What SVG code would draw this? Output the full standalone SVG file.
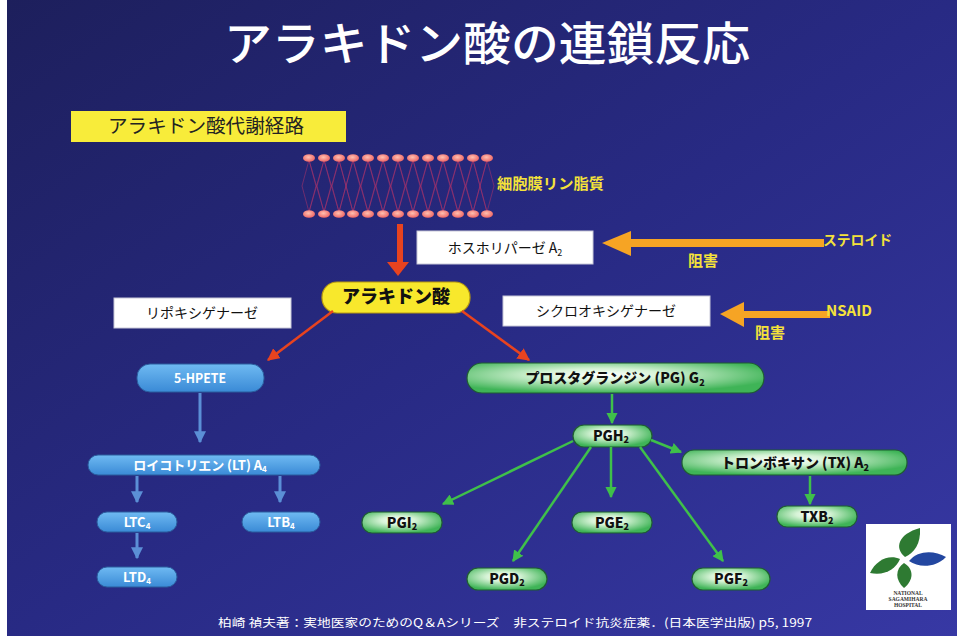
<svg xmlns="http://www.w3.org/2000/svg" width="957" height="638" viewBox="0 0 957 638">
  <defs>
    <linearGradient id="bg" x1="0" y1="0" x2="1" y2="1">
      <stop offset="0" stop-color="#1d1f5c"/>
      <stop offset="0.5" stop-color="#282a84"/>
      <stop offset="1" stop-color="#3738a4"/>
    </linearGradient>
    <radialGradient id="greenPill" cx="0.45" cy="0.4" r="0.6">
      <stop offset="0" stop-color="#ffffff"/>
      <stop offset="0.35" stop-color="#d6f3d6"/>
      <stop offset="1" stop-color="#3fb457"/>
    </radialGradient>
    <linearGradient id="bluePill" x1="0" y1="0" x2="0" y2="1">
      <stop offset="0" stop-color="#6fbaf2"/>
      <stop offset="1" stop-color="#3a8ad6"/>
    </linearGradient>
    <radialGradient id="lipidHead" cx="0.45" cy="0.4" r="0.6">
      <stop offset="0" stop-color="#ffc0b0"/>
      <stop offset="1" stop-color="#ee6565"/>
    </radialGradient>
    <marker id="redHead" viewBox="0 0 10 10" refX="9" refY="5" markerWidth="5" markerHeight="5" orient="auto" markerUnits="strokeWidth">
      <path d="M0,0 L10,5 L0,10 z" fill="#e8431f"/>
    </marker>
    <marker id="greenHead" viewBox="0 0 10 10" refX="9" refY="5" markerWidth="4.5" markerHeight="4.5" orient="auto" markerUnits="strokeWidth">
      <path d="M0,0 L10,5 L0,10 z" fill="#3fc04a"/>
    </marker>
    <marker id="blueHead" viewBox="0 0 10 10" refX="9" refY="5" markerWidth="4" markerHeight="4" orient="auto" markerUnits="strokeWidth">
      <path d="M0,0 L10,5 L0,10 z" fill="#5b8fd6"/>
    </marker>
  </defs>
  <style>
    .jp { font-family: "Noto Sans CJK JP", "Noto Sans", sans-serif; }
    .box { fill: #ffffff; stroke: #c8c8d8; stroke-width: 1; }
    .boxText { font-family: "Noto Sans CJK JP", sans-serif; font-size: 14px; fill: #111; text-anchor: middle; }
    .yellowText { font-family: "Noto Sans CJK JP", sans-serif; font-weight: bold; fill: #f4e23a; }
    .gPill { fill: url(#greenPill); stroke: #1f5d32; stroke-width: 1.2; }
    .bPill { fill: url(#bluePill); stroke: #2b5d9e; stroke-width: 1; }
    .gText { font-family: "Noto Sans CJK JP", "Liberation Sans", sans-serif; font-weight: 900; font-size: 14px; fill: #111; text-anchor: middle; }
    .bText { font-family: "Noto Sans CJK JP", "Liberation Sans", sans-serif; font-weight: bold; font-size: 13px; fill: #ffffff; text-anchor: middle; }
    .redArrow { stroke: #e8431f; stroke-width: 2.5; fill: none; marker-end: url(#redHead); }
    .greenArrow { stroke: #3fc04a; stroke-width: 2.5; fill: none; marker-end: url(#greenHead); }
    .blueArrow { stroke: #5b8fd6; stroke-width: 3; fill: none; marker-end: url(#blueHead); }
    .tail { stroke: #a8336a; stroke-width: 0.8; fill: none; opacity: 0.7; }
    .head { fill: url(#lipidHead); }
    .orange { fill: #f6a424; }
  </style>

  <!-- slide background with thin white margins -->
  <rect x="0" y="0" width="957" height="638" fill="#ffffff"/>
  <rect x="7" y="0" width="950" height="636" fill="url(#bg)"/>

  <!-- title -->
  <text x="487" y="60" class="jp" font-size="46" font-weight="500" fill="#ffffff" text-anchor="middle" textLength="526" lengthAdjust="spacingAndGlyphs">アラキドン酸の連鎖反応</text>

  <!-- section label -->
  <g id="section-label">
    <rect x="71" y="111" width="275" height="31" fill="#f8ec3a"/>
    <text x="108" y="133" class="jp" font-size="19" fill="#222" textLength="196" lengthAdjust="spacingAndGlyphs">アラキドン酸代謝経路</text>
  </g>

  <!-- cell membrane phospholipid bilayer -->
  <g id="membrane">
    <g id="tails">
      <path class="tail" d="M309,160 L316,186 L309,212 M309,160 L302,186 L309,212 M309,160 L324,212 M324,160 L309,212"/>
      <path class="tail" d="M324,160 L331,186 L324,212 M324,160 L317,186 L324,212 M324,160 L339,212 M339,160 L324,212"/>
      <path class="tail" d="M339,160 L346,186 L339,212 M339,160 L332,186 L339,212 M339,160 L353,212 M353,160 L339,212"/>
      <path class="tail" d="M353,160 L360,186 L353,212 M353,160 L346,186 L353,212 M353,160 L368,212 M368,160 L353,212"/>
      <path class="tail" d="M368,160 L375,186 L368,212 M368,160 L361,186 L368,212 M368,160 L383,212 M383,160 L368,212"/>
      <path class="tail" d="M383,160 L390,186 L383,212 M383,160 L376,186 L383,212 M383,160 L398,212 M398,160 L383,212"/>
      <path class="tail" d="M398,160 L405,186 L398,212 M398,160 L391,186 L398,212 M398,160 L413,212 M413,160 L398,212"/>
      <path class="tail" d="M413,160 L420,186 L413,212 M413,160 L406,186 L413,212 M413,160 L428,212 M428,160 L413,212"/>
      <path class="tail" d="M428,160 L435,186 L428,212 M428,160 L421,186 L428,212 M428,160 L443,212 M443,160 L428,212"/>
      <path class="tail" d="M443,160 L450,186 L443,212 M443,160 L436,186 L443,212 M443,160 L458,212 M458,160 L443,212"/>
      <path class="tail" d="M458,160 L465,186 L458,212 M458,160 L451,186 L458,212 M458,160 L473,212 M473,160 L458,212"/>
      <path class="tail" d="M473,160 L480,186 L473,212 M473,160 L466,186 L473,212 M473,160 L487,212 M487,160 L473,212"/>
      <path class="tail" d="M487,160 L494,186 L487,212 M487,160 L480,186 L487,212"/>
    </g>
    <g id="heads-top">
      <ellipse class="head" cx="309" cy="158" rx="6" ry="3.8"/>
      <ellipse class="head" cx="324" cy="158" rx="6" ry="3.8"/>
      <ellipse class="head" cx="339" cy="158" rx="6" ry="3.8"/>
      <ellipse class="head" cx="353" cy="158" rx="6" ry="3.8"/>
      <ellipse class="head" cx="368" cy="158" rx="6" ry="3.8"/>
      <ellipse class="head" cx="383" cy="158" rx="6" ry="3.8"/>
      <ellipse class="head" cx="398" cy="158" rx="6" ry="3.8"/>
      <ellipse class="head" cx="413" cy="158" rx="6" ry="3.8"/>
      <ellipse class="head" cx="428" cy="158" rx="6" ry="3.8"/>
      <ellipse class="head" cx="443" cy="158" rx="6" ry="3.8"/>
      <ellipse class="head" cx="458" cy="158" rx="6" ry="3.8"/>
      <ellipse class="head" cx="473" cy="158" rx="6" ry="3.8"/>
      <ellipse class="head" cx="487" cy="158" rx="6" ry="3.8"/>
    </g>
    <g id="heads-bottom">
      <ellipse class="head" cx="309" cy="214" rx="6" ry="3.8"/>
      <ellipse class="head" cx="324" cy="214" rx="6" ry="3.8"/>
      <ellipse class="head" cx="339" cy="214" rx="6" ry="3.8"/>
      <ellipse class="head" cx="353" cy="214" rx="6" ry="3.8"/>
      <ellipse class="head" cx="368" cy="214" rx="6" ry="3.8"/>
      <ellipse class="head" cx="383" cy="214" rx="6" ry="3.8"/>
      <ellipse class="head" cx="398" cy="214" rx="6" ry="3.8"/>
      <ellipse class="head" cx="413" cy="214" rx="6" ry="3.8"/>
      <ellipse class="head" cx="428" cy="214" rx="6" ry="3.8"/>
      <ellipse class="head" cx="443" cy="214" rx="6" ry="3.8"/>
      <ellipse class="head" cx="458" cy="214" rx="6" ry="3.8"/>
      <ellipse class="head" cx="473" cy="214" rx="6" ry="3.8"/>
      <ellipse class="head" cx="487" cy="214" rx="6" ry="3.8"/>
    </g>
    <text x="497" y="189" class="yellowText" font-size="14.5" textLength="107" lengthAdjust="spacingAndGlyphs">細胞膜リン脂質</text>
  </g>

  <!-- enzyme boxes -->
  <g id="pla2">
    <rect class="box" x="417" y="231" width="176" height="33"/>
    <text x="505" y="253" class="boxText">ホスホリパーゼ A<tspan font-size="9" dy="3">2</tspan></text>
  </g>
  <g id="lox">
    <rect class="box" x="114" y="298" width="177" height="30"/>
    <text x="202" y="318" class="boxText">リポキシゲナーゼ</text>
  </g>
  <g id="cox">
    <rect class="box" x="503" y="296" width="207" height="30"/>
    <text x="606" y="316" class="boxText">シクロオキシゲナーゼ</text>
  </g>

  <!-- inhibitors -->
  <g id="steroid">
    <rect class="orange" x="628" y="239" width="196" height="8"/>
    <polygon class="orange" points="602,243 631,231 631,256"/>
    <text x="823" y="245" class="yellowText" font-size="14" textLength="69" lengthAdjust="spacingAndGlyphs">ステロイド</text>
    <text x="688" y="266" class="yellowText" font-size="15">阻害</text>
  </g>
  <g id="nsaid">
    <rect class="orange" x="740" y="311" width="90" height="7"/>
    <polygon class="orange" points="720,314 744,302 744,327"/>
    <text x="826" y="316" class="yellowText" font-size="15" font-family="Liberation Sans, sans-serif">NSAID</text>
    <text x="755" y="338" class="yellowText" font-size="15">阻害</text>
  </g>

  <!-- arachidonic acid -->
  <g id="arachidonic-acid">
    <rect x="322" y="282" width="148" height="31" rx="15" fill="#f8e82c" stroke="#b89a10" stroke-width="1.2"/>
    <text x="396" y="303" class="jp" font-size="18" font-weight="900" fill="#111" text-anchor="middle">アラキドン酸</text>
  </g>

  <!-- lipoxygenase branch -->
  <g id="hpete">
    <rect class="bPill" x="137" y="364" width="127" height="28" rx="13"/>
    <text x="200" y="383" class="bText" textLength="52" lengthAdjust="spacingAndGlyphs">5-HPETE</text>
  </g>
  <g id="lta4">
    <rect class="bPill" x="88" y="455" width="232" height="20" rx="10"/>
    <text x="200" y="470" class="bText" font-size="12.5">ロイコトリエン (LT) A<tspan font-size="8" dy="2">4</tspan></text>
  </g>
  <g id="ltc4">
    <rect class="bPill" x="97" y="512" width="80" height="20" rx="10"/>
    <text x="137" y="527" class="bText">LTC<tspan font-size="8" dy="2">4</tspan></text>
  </g>
  <g id="ltb4">
    <rect class="bPill" x="242" y="512" width="78" height="20" rx="10"/>
    <text x="281" y="527" class="bText">LTB<tspan font-size="8" dy="2">4</tspan></text>
  </g>
  <g id="ltd4">
    <rect class="bPill" x="97" y="567" width="80" height="20" rx="10"/>
    <text x="137" y="582" class="bText">LTD<tspan font-size="8" dy="2">4</tspan></text>
  </g>

  <!-- cyclooxygenase branch -->
  <g id="pgg2">
    <rect class="gPill" x="467" y="363" width="297" height="30" rx="15"/>
    <text x="615" y="383" class="gText">プロスタグランジン (PG) G<tspan font-size="9" dy="3">2</tspan></text>
  </g>
  <g id="pgh2">
    <rect class="gPill" x="573" y="425" width="79" height="22" rx="11"/>
    <text x="611" y="441" class="gText" font-size="13">PGH<tspan font-size="9" dy="2">2</tspan></text>
  </g>
  <g id="txa2">
    <rect class="gPill" x="682" y="450" width="225" height="25" rx="12"/>
    <text x="795" y="468" class="gText">トロンボキサン (TX) A<tspan font-size="9" dy="3">2</tspan></text>
  </g>
  <g id="txb2">
    <rect class="gPill" x="777" y="506" width="80" height="21" rx="10"/>
    <text x="817" y="522" class="gText" font-size="13">TXB<tspan font-size="9" dy="2">2</tspan></text>
  </g>
  <g id="pgi2">
    <rect class="gPill" x="362" y="512" width="80" height="21" rx="10"/>
    <text x="402" y="528" class="gText" font-size="13">PGI<tspan font-size="9" dy="2">2</tspan></text>
  </g>
  <g id="pge2">
    <rect class="gPill" x="572" y="512" width="80" height="21" rx="10"/>
    <text x="612" y="528" class="gText" font-size="13">PGE<tspan font-size="9" dy="2">2</tspan></text>
  </g>
  <g id="pgd2">
    <rect class="gPill" x="467" y="568" width="80" height="22" rx="11"/>
    <text x="507" y="584" class="gText" font-size="13">PGD<tspan font-size="9" dy="2">2</tspan></text>
  </g>
  <g id="pgf2">
    <rect class="gPill" x="692" y="568" width="78" height="22" rx="11"/>
    <text x="731" y="584" class="gText" font-size="13">PGF<tspan font-size="9" dy="2">2</tspan></text>
  </g>

  <!-- connectors -->
  <g id="connectors">
    <!-- membrane to arachidonic acid -->
    <rect x="397" y="224" width="6" height="40" fill="#e8431f"/>
    <polygon points="387,262 409,262 398,276" fill="#e8431f"/>
    <line class="redArrow" x1="333" y1="311" x2="268" y2="360"/>
    <line class="redArrow" x1="462" y1="311" x2="529" y2="360"/>
    <!-- leukotriene path -->
    <line class="blueArrow" x1="200" y1="393" x2="200" y2="442"/>
    <line class="blueArrow" x1="137" y1="476" x2="137" y2="502"/>
    <line class="blueArrow" x1="280" y1="476" x2="280" y2="502"/>
    <line class="blueArrow" x1="137" y1="533" x2="137" y2="558"/>
    <!-- prostanoid path -->
    <line class="greenArrow" x1="612" y1="394" x2="612" y2="423" stroke-width="3.5"/>
    <line class="greenArrow" x1="651" y1="440" x2="681" y2="452"/>
    <line class="greenArrow" x1="810" y1="476" x2="810" y2="504" stroke-width="3.5"/>
    <line class="greenArrow" x1="573" y1="441" x2="443" y2="504"/>
    <line class="greenArrow" x1="611" y1="447" x2="611" y2="497" stroke-width="4"/>
    <line class="greenArrow" x1="591" y1="447" x2="513" y2="561"/>
    <line class="greenArrow" x1="640" y1="447" x2="723" y2="561"/>
  </g>

  <!-- hospital logo -->
  <g id="logo">
    <rect x="866" y="524" width="85" height="86" fill="#ffffff"/>
    <path d="M905,557 C894,548 898,534 920,528 C921,544 914,553 905,557 z" fill="#2e7a32"/>
    <path d="M909,561 C918,550 934,550 946,557 C935,568 919,568 909,561 z" fill="#2347a0"/>
    <path d="M904,563 C914,569 914,580 904,588 C895,580 895,569 904,563 z" fill="#2e7a32"/>
    <path d="M900,559 C889,554 876,560 870,573 C885,576 896,569 900,559 z" fill="#2e7a32"/>
    <text x="908" y="595" font-family="Liberation Serif, serif" font-size="5.5" font-weight="bold" fill="#333" text-anchor="middle">NATIONAL</text>
    <text x="908" y="601" font-family="Liberation Serif, serif" font-size="5.5" font-weight="bold" fill="#333" text-anchor="middle">SAGAMIHARA</text>
    <text x="908" y="607" font-family="Liberation Serif, serif" font-size="5.5" font-weight="bold" fill="#333" text-anchor="middle">HOSPITAL</text>
  </g>

  <!-- citation -->
  <text x="218" y="627" class="jp" font-size="11.5" fill="#ffffff" textLength="594" lengthAdjust="spacingAndGlyphs">柏崎 禎夫著：実地医家のためのQ＆Aシリーズ　非ステロイド抗炎症薬．(日本医学出版) p5, 1997</text>
</svg>
